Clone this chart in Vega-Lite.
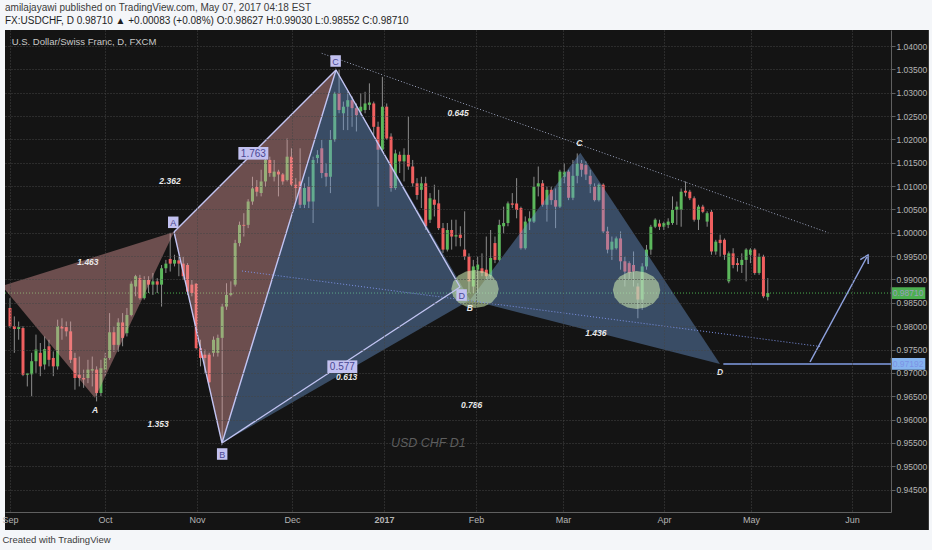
{
"$schema":"https://vega.github.io/schema/vega-lite/v6.json",
"width":886,"height":482,
"autosize":{"type":"none"},
"padding":{"left":5,"top":30,"right":41,"bottom":38},
"background":"#f4f6f9",
"config":{"font":"Liberation Sans","view":{"stroke":null},"axis":{"zindex":1}},
"title":{"text":"amilajayawi published on TradingView.com, May 07, 2017 04:18 EST","subtitle":"FX:USDCHF, D  0.98710 ▲ +0.00083 (+0.08%)  O:0.98627  H:0.99030  L:0.98552  C:0.98710","anchor":"start","frame":"group","offset":4,"fontSize":10,"fontWeight":"normal","color":"#3a3a3a","subtitleFontSize":10,"subtitleColor":"#1e1e1e","subtitlePadding":3},
"datasets":{
"candles":[
{"s":0,"o":0.9839,"h":0.9860,"l":0.9796,"c":0.9800},
{"s":1,"o":0.9800,"h":0.9821,"l":0.9743,"c":0.9794},
{"s":2,"o":0.9794,"h":0.9810,"l":0.9771,"c":0.9798},
{"s":3,"o":0.9796,"h":0.9800,"l":0.9693,"c":0.9696},
{"s":4,"o":0.9696,"h":0.9700,"l":0.9671,"c":0.9699},
{"s":5,"o":0.9697,"h":0.9743,"l":0.9650,"c":0.9725},
{"s":6,"o":0.9725,"h":0.9782,"l":0.9700,"c":0.9750},
{"s":7,"o":0.9743,"h":0.9764,"l":0.9693,"c":0.9714},
{"s":8,"o":0.9718,"h":0.9778,"l":0.9707,"c":0.9751},
{"s":9,"o":0.9757,"h":0.9771,"l":0.9714,"c":0.9728},
{"s":10,"o":0.9732,"h":0.9746,"l":0.9693,"c":0.9714},
{"s":11,"o":0.9714,"h":0.9814,"l":0.9707,"c":0.9800},
{"s":12,"o":0.9800,"h":0.9817,"l":0.9771,"c":0.9795},
{"s":13,"o":0.9798,"h":0.9810,"l":0.9778,"c":0.9789},
{"s":14,"o":0.9789,"h":0.9810,"l":0.9721,"c":0.9728},
{"s":15,"o":0.9732,"h":0.9743,"l":0.9664,"c":0.9689},
{"s":16,"o":0.9696,"h":0.9735,"l":0.9671,"c":0.9689},
{"s":17,"o":0.9689,"h":0.9707,"l":0.9668,"c":0.9686},
{"s":18,"o":0.9689,"h":0.9728,"l":0.9678,"c":0.9707},
{"s":19,"o":0.9705,"h":0.9735,"l":0.9671,"c":0.9708},
{"s":20,"o":0.9707,"h":0.9714,"l":0.9639,"c":0.9657},
{"s":21,"o":0.9657,"h":0.9728,"l":0.9650,"c":0.9710},
{"s":22,"o":0.9707,"h":0.9743,"l":0.9693,"c":0.9732},
{"s":23,"o":0.9732,"h":0.9828,"l":0.9728,"c":0.9787},
{"s":24,"o":0.9787,"h":0.9800,"l":0.9745,"c":0.9760},
{"s":25,"o":0.9760,"h":0.9817,"l":0.9745,"c":0.9808},
{"s":26,"o":0.9808,"h":0.9828,"l":0.9757,"c":0.9775},
{"s":27,"o":0.9785,"h":0.9839,"l":0.9778,"c":0.9824},
{"s":28,"o":0.9824,"h":0.9896,"l":0.9821,"c":0.9891},
{"s":29,"o":0.9885,"h":0.9910,"l":0.9864,"c":0.9907},
{"s":30,"o":0.9903,"h":0.9910,"l":0.9857,"c":0.9860},
{"s":31,"o":0.9860,"h":0.9907,"l":0.9857,"c":0.9899},
{"s":32,"o":0.9899,"h":0.9907,"l":0.9871,"c":0.9889},
{"s":33,"o":0.9889,"h":0.9914,"l":0.9867,"c":0.9896},
{"s":34,"o":0.9896,"h":0.9903,"l":0.9871,"c":0.9889},
{"s":35,"o":0.9889,"h":0.9931,"l":0.9842,"c":0.9924},
{"s":36,"o":0.9924,"h":0.9942,"l":0.9914,"c":0.9934},
{"s":37,"o":0.9944,"h":1.0000,"l":0.9917,"c":0.9934},
{"s":38,"o":0.9934,"h":0.9953,"l":0.9928,"c":0.9942},
{"s":39,"o":0.9941,"h":0.9949,"l":0.9907,"c":0.9934},
{"s":40,"o":0.9934,"h":0.9949,"l":0.9899,"c":0.9907},
{"s":41,"o":0.9931,"h":0.9935,"l":0.9867,"c":0.9874},
{"s":42,"o":0.9889,"h":0.9899,"l":0.9864,"c":0.9871},
{"s":43,"o":0.9891,"h":0.9892,"l":0.9750,"c":0.9753},
{"s":44,"o":0.9753,"h":0.9771,"l":0.9714,"c":0.9732},
{"s":45,"o":0.9739,"h":0.9750,"l":0.9700,"c":0.9732},
{"s":46,"o":0.9739,"h":0.9743,"l":0.9678,"c":0.9680},
{"s":47,"o":0.9743,"h":0.9778,"l":0.9735,"c":0.9771},
{"s":48,"o":0.9743,"h":0.9782,"l":0.9735,"c":0.9775},
{"s":49,"o":0.9775,"h":0.9849,"l":0.9550,"c":0.9842},
{"s":50,"o":0.9842,"h":0.9892,"l":0.9835,"c":0.9867},
{"s":51,"o":0.9867,"h":0.9896,"l":0.9864,"c":0.9871},
{"s":52,"o":0.9889,"h":0.9985,"l":0.9885,"c":0.9978},
{"s":53,"o":0.9978,"h":1.0024,"l":0.9971,"c":1.0017},
{"s":54,"o":1.0017,"h":1.0042,"l":0.9992,"c":1.0015},
{"s":55,"o":1.0017,"h":1.0072,"l":1.0010,"c":1.0067},
{"s":56,"o":1.0067,"h":1.0120,"l":1.0060,"c":1.0095},
{"s":57,"o":1.0099,"h":1.0113,"l":1.0078,"c":1.0088},
{"s":58,"o":1.0085,"h":1.0135,"l":1.0078,"c":1.0110},
{"s":59,"o":1.0110,"h":1.0167,"l":1.0099,"c":1.0156},
{"s":60,"o":1.0156,"h":1.0163,"l":1.0120,"c":1.0128},
{"s":61,"o":1.0120,"h":1.0156,"l":1.0110,"c":1.0131},
{"s":62,"o":1.0131,"h":1.0135,"l":1.0078,"c":1.0125},
{"s":63,"o":1.0125,"h":1.0128,"l":1.0103,"c":1.0110},
{"s":64,"o":1.0113,"h":1.0202,"l":1.0110,"c":1.0163},
{"s":65,"o":1.0163,"h":1.0181,"l":1.0099,"c":1.0103},
{"s":66,"o":1.0103,"h":1.0117,"l":1.0071,"c":1.0096},
{"s":67,"o":1.0110,"h":1.0181,"l":1.0053,"c":1.0060},
{"s":68,"o":1.0060,"h":1.0106,"l":1.0053,"c":1.0096},
{"s":69,"o":1.0099,"h":1.0120,"l":1.0053,"c":1.0067},
{"s":70,"o":1.0067,"h":1.0163,"l":1.0021,"c":1.0156},
{"s":71,"o":1.0160,"h":1.0177,"l":1.0149,"c":1.0167},
{"s":72,"o":1.0181,"h":1.0199,"l":1.0117,"c":1.0128},
{"s":73,"o":1.0128,"h":1.0149,"l":1.0099,"c":1.0120},
{"s":74,"o":1.0120,"h":1.0220,"l":1.0085,"c":1.0199},
{"s":75,"o":1.0199,"h":1.0302,"l":1.0195,"c":1.0299},
{"s":76,"o":1.0299,"h":1.0349,"l":1.0256,"c":1.0263},
{"s":77,"o":1.0256,"h":1.0281,"l":1.0220,"c":1.0270},
{"s":78,"o":1.0270,"h":1.0302,"l":1.0220,"c":1.0284},
{"s":79,"o":1.0284,"h":1.0292,"l":1.0227,"c":1.0267},
{"s":80,"o":1.0267,"h":1.0277,"l":1.0217,"c":1.0252},
{"s":81,"o":1.0260,"h":1.0299,"l":1.0252,"c":1.0270},
{"s":82,"o":1.0263,"h":1.0302,"l":1.0256,"c":1.0277},
{"s":83,"o":1.0274,"h":1.0320,"l":1.0263,"c":1.0279},
{"s":84,"o":1.0277,"h":1.0281,"l":1.0210,"c":1.0227},
{"s":85,"o":1.0227,"h":1.0238,"l":1.0056,"c":1.0178},
{"s":86,"o":1.0178,"h":1.0334,"l":1.0174,"c":1.0270},
{"s":87,"o":1.0270,"h":1.0277,"l":1.0199,"c":1.0202},
{"s":88,"o":1.0206,"h":1.0213,"l":1.0088,"c":1.0096},
{"s":89,"o":1.0096,"h":1.0178,"l":1.0092,"c":1.0170},
{"s":90,"o":1.0167,"h":1.0174,"l":1.0128,"c":1.0153},
{"s":91,"o":1.0153,"h":1.0181,"l":1.0110,"c":1.0167},
{"s":92,"o":1.0167,"h":1.0249,"l":1.0135,"c":1.0142},
{"s":93,"o":1.0142,"h":1.0156,"l":1.0099,"c":1.0106},
{"s":94,"o":1.0106,"h":1.0117,"l":1.0071,"c":1.0081},
{"s":95,"o":1.0092,"h":1.0120,"l":1.0053,"c":1.0106},
{"s":96,"o":1.0106,"h":1.0120,"l":1.0006,"c":1.0014},
{"s":97,"o":1.0028,"h":1.0085,"l":1.0021,"c":1.0074},
{"s":98,"o":1.0071,"h":1.0103,"l":1.0035,"c":1.0060},
{"s":99,"o":1.0063,"h":1.0092,"l":1.0006,"c":1.0010},
{"s":100,"o":1.0010,"h":1.0021,"l":0.9957,"c":0.9964},
{"s":101,"o":0.9964,"h":1.0021,"l":0.9960,"c":1.0006},
{"s":102,"o":1.0006,"h":1.0028,"l":0.9964,"c":0.9992},
{"s":103,"o":0.9992,"h":1.0028,"l":0.9971,"c":0.9995},
{"s":104,"o":0.9996,"h":1.0014,"l":0.9971,"c":0.9989},
{"s":105,"o":0.9964,"h":1.0046,"l":0.9942,"c":0.9949},
{"s":106,"o":0.9949,"h":0.9956,"l":0.9871,"c":0.9896},
{"s":107,"o":0.9885,"h":0.9942,"l":0.9871,"c":0.9928},
{"s":108,"o":0.9921,"h":0.9949,"l":0.9871,"c":0.9932},
{"s":109,"o":0.9924,"h":0.9956,"l":0.9907,"c":0.9914},
{"s":110,"o":0.9921,"h":0.9992,"l":0.9899,"c":0.9907},
{"s":111,"o":0.9907,"h":1.0006,"l":0.9903,"c":0.9946},
{"s":112,"o":0.9978,"h":0.9992,"l":0.9935,"c":0.9942},
{"s":113,"o":0.9942,"h":1.0028,"l":0.9939,"c":1.0017},
{"s":114,"o":1.0014,"h":1.0056,"l":0.9999,"c":1.0021},
{"s":115,"o":1.0021,"h":1.0067,"l":1.0014,"c":1.0063},
{"s":116,"o":1.0063,"h":1.0085,"l":1.0053,"c":1.0060},
{"s":117,"o":1.0063,"h":1.0117,"l":1.0031,"c":1.0049},
{"s":118,"o":1.0053,"h":1.0056,"l":0.9964,"c":0.9967},
{"s":119,"o":0.9967,"h":1.0035,"l":0.9964,"c":1.0024},
{"s":120,"o":1.0024,"h":1.0046,"l":1.0006,"c":1.0031},
{"s":121,"o":1.0024,"h":1.0120,"l":1.0021,"c":1.0099},
{"s":122,"o":1.0099,"h":1.0142,"l":1.0078,"c":1.0106},
{"s":123,"o":1.0106,"h":1.0113,"l":1.0056,"c":1.0060},
{"s":124,"o":1.0060,"h":1.0099,"l":1.0024,"c":1.0092},
{"s":125,"o":1.0092,"h":1.0099,"l":1.0060,"c":1.0070},
{"s":126,"o":1.0070,"h":1.0095,"l":1.0010,"c":1.0056},
{"s":127,"o":1.0056,"h":1.0135,"l":1.0053,"c":1.0131},
{"s":128,"o":1.0120,"h":1.0149,"l":1.0106,"c":1.0131},
{"s":129,"o":1.0131,"h":1.0135,"l":1.0070,"c":1.0075},
{"s":130,"o":1.0075,"h":1.0156,"l":1.0070,"c":1.0122},
{"s":131,"o":1.0122,"h":1.0170,"l":1.0106,"c":1.0149},
{"s":132,"o":1.0149,"h":1.0156,"l":1.0120,"c":1.0135},
{"s":133,"o":1.0145,"h":1.0153,"l":1.0113,"c":1.0125},
{"s":134,"o":1.0122,"h":1.0135,"l":1.0085,"c":1.0104},
{"s":135,"o":1.0099,"h":1.0106,"l":1.0067,"c":1.0070},
{"s":136,"o":1.0070,"h":1.0106,"l":1.0067,"c":1.0103},
{"s":137,"o":1.0103,"h":1.0106,"l":0.9999,"c":1.0003},
{"s":138,"o":1.0003,"h":1.0013,"l":0.9956,"c":0.9964},
{"s":139,"o":0.9964,"h":0.9992,"l":0.9942,"c":0.9981},
{"s":140,"o":0.9967,"h":0.9992,"l":0.9964,"c":0.9988},
{"s":141,"o":0.9988,"h":1.0003,"l":0.9921,"c":0.9939},
{"s":142,"o":0.9939,"h":0.9949,"l":0.9885,"c":0.9917},
{"s":143,"o":0.9935,"h":0.9939,"l":0.9899,"c":0.9914},
{"s":144,"o":0.9931,"h":0.9960,"l":0.9885,"c":0.9917},
{"s":145,"o":0.9885,"h":0.9892,"l":0.9817,"c":0.9857},
{"s":146,"o":0.9857,"h":0.9935,"l":0.9835,"c":0.9928},
{"s":147,"o":0.9928,"h":0.9974,"l":0.9921,"c":0.9964},
{"s":148,"o":0.9964,"h":1.0017,"l":0.9953,"c":1.0013},
{"s":149,"o":1.0013,"h":1.0031,"l":1.0010,"c":1.0028},
{"s":150,"o":1.0020,"h":1.0028,"l":1.0006,"c":1.0013},
{"s":151,"o":1.0013,"h":1.0024,"l":1.0006,"c":1.0021},
{"s":152,"o":1.0017,"h":1.0031,"l":1.0010,"c":1.0024},
{"s":153,"o":1.0021,"h":1.0078,"l":1.0017,"c":1.0049},
{"s":154,"o":1.0049,"h":1.0067,"l":1.0017,"c":1.0056},
{"s":155,"o":1.0049,"h":1.0095,"l":1.0013,"c":1.0088},
{"s":156,"o":1.0090,"h":1.0110,"l":1.0078,"c":1.0086},
{"s":157,"o":1.0088,"h":1.0092,"l":1.0070,"c":1.0074},
{"s":158,"o":1.0074,"h":1.0078,"l":1.0024,"c":1.0028},
{"s":159,"o":1.0028,"h":1.0060,"l":1.0006,"c":1.0056},
{"s":160,"o":1.0056,"h":1.0060,"l":1.0042,"c":1.0045},
{"s":161,"o":1.0024,"h":1.0046,"l":1.0013,"c":1.0042},
{"s":162,"o":1.0045,"h":1.0049,"l":0.9953,"c":0.9960},
{"s":163,"o":0.9960,"h":0.9985,"l":0.9953,"c":0.9981},
{"s":164,"o":0.9985,"h":0.9996,"l":0.9949,"c":0.9978},
{"s":165,"o":0.9985,"h":0.9988,"l":0.9942,"c":0.9953},
{"s":166,"o":0.9896,"h":0.9960,"l":0.9892,"c":0.9956},
{"s":167,"o":0.9956,"h":0.9967,"l":0.9924,"c":0.9931},
{"s":168,"o":0.9935,"h":0.9946,"l":0.9917,"c":0.9931},
{"s":169,"o":0.9931,"h":0.9956,"l":0.9914,"c":0.9942},
{"s":170,"o":0.9942,"h":0.9967,"l":0.9896,"c":0.9964},
{"s":171,"o":0.9953,"h":0.9967,"l":0.9935,"c":0.9964},
{"s":172,"o":0.9964,"h":0.9967,"l":0.9910,"c":0.9914},
{"s":173,"o":0.9914,"h":0.9956,"l":0.9910,"c":0.9949},
{"s":174,"o":0.9949,"h":0.9953,"l":0.9860,"c":0.9864},
{"s":175,"o":0.98627,"h":0.99030,"l":0.98552,"c":0.98710}
],
"pink":[
{"poly":"xab","k":0,"s":-1.85,"p":0.98861},{"poly":"xab","k":1,"s":19.63,"p":0.96463},{"poly":"xab","k":2,"s":37.88,"p":1.00017},
{"poly":"bcd","k":0,"s":37.88,"p":1.00017},{"poly":"bcd","k":1,"s":48.96,"p":0.95499},{"poly":"bcd","k":2,"s":75.29,"p":1.03486}
],
"blue":[
{"poly":"xab","k":0,"s":48.96,"p":0.95499},{"poly":"xab","k":1,"s":75.29,"p":1.03486},{"poly":"xab","k":2,"s":106.24,"p":0.98561},
{"poly":"bcd","k":0,"s":106.24,"p":0.98561},{"poly":"bcd","k":1,"s":131.71,"p":1.01715},{"poly":"bcd","k":2,"s":163.97,"p":0.97192}
],
"lines":[
{"id":"abcd","k":0,"s":37.88,"p":1.00017},{"id":"abcd","k":1,"s":48.96,"p":0.95499},{"id":"abcd","k":2,"s":75.29,"p":1.03486},{"id":"abcd","k":3,"s":103.93,"p":0.98839},
{"id":"ac","k":0,"s":37.88,"p":1.00017},{"id":"ac","k":1,"s":75.29,"p":1.03486},
{"id":"bd","k":0,"s":48.96,"p":0.95499},{"id":"bd","k":1,"s":103.93,"p":0.98839},
{"id":"arrow","k":0,"s":184.76,"p":0.97233},{"id":"arrow","k":1,"s":198.15,"p":0.99525},
{"id":"head","k":0,"s":196.37,"p":0.99424},{"id":"head","k":1,"s":198.15,"p":0.99525},{"id":"head","k":2,"s":198.2,"p":0.99332}
],
"trends":[
{"id":"upper","k":0,"s":71.99,"p":1.03844},{"id":"upper","k":1,"s":188.98,"p":1.00002},
{"id":"lower","k":0,"s":53.58,"p":0.99182},{"id":"lower","k":1,"s":187.46,"p":0.97561}
],
"ellipses":[{"s":107.4,"p":0.98797},{"s":144.7,"p":0.98775}],
"italic":[
{"t":"A","s":19.63,"p":0.96206},{"t":"1.463","s":18.0,"p":0.99375},{"t":"1.353","s":34.2,"p":0.95906},{"t":"2.362","s":36.95,"p":1.01109},
{"t":"0.613","s":77.76,"p":0.96905},{"t":"0.645","s":103.5,"p":1.02559},{"t":"0.786","s":106.6,"p":0.96313},{"t":"1.436","s":135.3,"p":0.97854},
{"t":"B","s":106.2,"p":0.98390},{"t":"C","s":131.5,"p":1.01929},{"t":"D","s":163.97,"p":0.97026}
],
"letterbox":[{"t":"A","s":37.7,"p":1.00225},{"t":"B","s":49.0,"p":0.95263},{"t":"C","s":75.2,"p":1.03679},{"t":"D","s":104.3,"p":0.98668}],
"numbox":[{"t":"1.763","s":56.2,"p":1.01702},{"t":"0.577","s":76.75,"p":0.97133}],
"pricebox":[{"t":"0.98710","kind":"last","s":207.4,"p":0.9871},{"t":"0.97192","kind":"level","s":207.4,"p":0.97192}]
},
"layer":[
{"data":{"values":[{}]},"mark":{"type":"rect","color":"#141414"},
 "encoding":{"x":{"datum":-1.155,"type":"quantitative","scale":{"domain":[-1.155,203.46],"nice":false,"zero":false,"padding":0}},"x2":{"datum":212.2},
 "y":{"datum":1.04343,"type":"quantitative","scale":{"domain":[0.94021,1.04343],"nice":false,"zero":false}},"y2":{"datum":0.93636}}},
{"data":{"values":[{}]},"mark":{"type":"rule","color":"#4caf50","strokeDash":[1,2],"strokeWidth":1},
 "encoding":{"x":{"datum":-1.155,"type":"quantitative","scale":{"domain":[-1.155,203.46],"nice":false,"zero":false,"padding":0}},"x2":{"datum":203.46},
 "y":{"datum":0.9871,"type":"quantitative","scale":{"domain":[0.94021,1.04343],"nice":false,"zero":false}}}},
{"data":{"name":"candles"},"mark":{"type":"rule","color":"#8c8c8c","strokeWidth":1},
 "encoding":{
  "x":{"field":"s","type":"quantitative","scale":{"domain":[-1.155,203.46],"nice":false,"zero":false,"padding":0},
   "axis":{"values":[0,21.94,43.19,65.13,86.37,107.62,127.71,151.04,171.13,194.46],"tickCount":30,
    "labelExpr":"datum.value < 10 ? 'Sep' : datum.value < 30 ? 'Oct' : datum.value < 50 ? 'Nov' : datum.value < 75 ? 'Dec' : datum.value < 95 ? '2017' : datum.value < 115 ? 'Feb' : datum.value < 140 ? 'Mar' : datum.value < 160 ? 'Apr' : datum.value < 180 ? 'May' : 'Jun'",
    "labelFontWeight":{"expr":"datum.value > 80 && datum.value < 95 ? 'bold' : 'normal'"},
    "grid":true,"gridColor":"#444444","gridDash":[1,2],"domain":true,"domainColor":"#606060","ticks":false,
    "labelColor":"#b4b4b4","labelFontSize":9,"labelPadding":3,"labelFlush":false,"labelOverlap":false,"labelBound":false,
    "title":"Created with  TradingView","titleAnchor":"start","titleAlign":"left","titleX":-3,"titleY":30,"titleBaseline":"alphabetic",
    "titleColor":"#3c3c3c","titleFontSize":9.5,"titleFontWeight":"normal","zindex":1}},
  "y":{"field":"l","type":"quantitative","scale":{"domain":[0.94021,1.04343],"nice":false,"zero":false},
   "axis":{"orient":"right","values":[0.945,0.95,0.955,0.96,0.965,0.97,0.975,0.98,0.985,0.99,0.995,1.0,1.005,1.01,1.015,1.02,1.025,1.03,1.035,1.04],"tickCount":30,
    "format":".5f","grid":true,"gridColor":"#444444","gridDash":[1,2],"domain":true,"domainColor":"#606060","ticks":true,"tickSize":4,"tickColor":"#606060",
    "labelColor":"#b4b4b4","labelFontSize":8.5,"labelPadding":1,"labelBaseline":"middle","labelOverlap":false,"labelBound":false,"labelFlush":false,"title":null,"zindex":1}},
  "y2":{"field":"h"}}},
{"data":{"name":"candles"},"mark":{"type":"bar","size":3},
 "encoding":{
  "x":{"field":"s","type":"quantitative","scale":{"domain":[-1.155,203.46],"nice":false,"zero":false,"padding":0}},
  "y":{"field":"o","type":"quantitative","scale":{"domain":[0.94021,1.04343],"nice":false,"zero":false}},
  "y2":{"field":"c"},
  "color":{"condition":{"test":"datum.c >= datum.o","value":"#5cb85c"},"value":"#ef5f5f"}}},
{"data":{"name":"pink"},"mark":{"type":"line","fill":"#e8a0a0","fillOpacity":0.42,"strokeWidth":0,"clip":true},
 "encoding":{
  "x":{"field":"s","type":"quantitative","scale":{"domain":[-1.155,203.46],"nice":false,"zero":false,"padding":0}},
  "y":{"field":"p","type":"quantitative","scale":{"domain":[0.94021,1.04343],"nice":false,"zero":false}},
  "detail":{"field":"poly"},"order":{"field":"k"}}},
{"data":{"name":"blue"},"mark":{"type":"line","fill":"#6d9ad6","fillOpacity":0.42,"strokeWidth":0},
 "encoding":{
  "x":{"field":"s","type":"quantitative","scale":{"domain":[-1.155,203.46],"nice":false,"zero":false,"padding":0}},
  "y":{"field":"p","type":"quantitative","scale":{"domain":[0.94021,1.04343],"nice":false,"zero":false}},
  "detail":{"field":"poly"},"order":{"field":"k"}}},
{"data":{"name":"ellipses"},"mark":{"type":"point","shape":"M1,0L0.924,0.306L0.707,0.566L0.383,0.739L0,0.8L-0.383,0.739L-0.707,0.566L-0.924,0.306L-1,0L-0.924,-0.306L-0.707,-0.566L-0.383,-0.739L0,-0.8L0.383,-0.739L0.707,-0.566L0.924,-0.306Z","size":2250,"filled":true,"fill":"#cde8b0","fillOpacity":0.58,"strokeWidth":0},
 "encoding":{
  "x":{"field":"s","type":"quantitative","scale":{"domain":[-1.155,203.46],"nice":false,"zero":false,"padding":0}},
  "y":{"field":"p","type":"quantitative","scale":{"domain":[0.94021,1.04343],"nice":false,"zero":false}}}},
{"data":{"name":"trends"},"mark":{"type":"line","strokeWidth":1,"strokeDash":[1,2]},
 "encoding":{
  "x":{"field":"s","type":"quantitative","scale":{"domain":[-1.155,203.46],"nice":false,"zero":false,"padding":0}},
  "y":{"field":"p","type":"quantitative","scale":{"domain":[0.94021,1.04343],"nice":false,"zero":false}},
  "detail":{"field":"id"},"order":{"field":"k"},
  "color":{"field":"id","type":"nominal","scale":{"domain":["upper","lower"],"range":["#9aa2bd","#7d92e6"]},"legend":null}}},
{"data":{"name":"lines"},"transform":[{"filter":"datum.id == 'abcd' || datum.id == 'ac' || datum.id == 'bd'"}],
 "mark":{"type":"line","strokeWidth":1.4,"color":"#c2c4f2"},
 "encoding":{
  "x":{"field":"s","type":"quantitative","scale":{"domain":[-1.155,203.46],"nice":false,"zero":false,"padding":0}},
  "y":{"field":"p","type":"quantitative","scale":{"domain":[0.94021,1.04343],"nice":false,"zero":false}},
  "detail":{"field":"id"},"order":{"field":"k"}}},
{"data":{"name":"lines"},"transform":[{"filter":"datum.id == 'arrow' || datum.id == 'head'"}],
 "mark":{"type":"line","strokeWidth":1.5,"color":"#8fa2df"},
 "encoding":{
  "x":{"field":"s","type":"quantitative","scale":{"domain":[-1.155,203.46],"nice":false,"zero":false,"padding":0}},
  "y":{"field":"p","type":"quantitative","scale":{"domain":[0.94021,1.04343],"nice":false,"zero":false}},
  "detail":{"field":"id"},"order":{"field":"k"}}},
{"data":{"values":[{}]},"mark":{"type":"rule","color":"#809de3","strokeWidth":1.5},
 "encoding":{"x":{"datum":164.74,"type":"quantitative","scale":{"domain":[-1.155,203.46],"nice":false,"zero":false,"padding":0}},"x2":{"datum":203.46},
 "y":{"datum":0.97192,"type":"quantitative","scale":{"domain":[0.94021,1.04343],"nice":false,"zero":false}}}},
{"data":{"name":"italic"},"mark":{"type":"text","fontStyle":"italic","fontWeight":"bold","fontSize":8.5,"color":"#e8e8e8","align":"center","baseline":"middle"},
 "encoding":{
  "x":{"field":"s","type":"quantitative","scale":{"domain":[-1.155,203.46],"nice":false,"zero":false,"padding":0}},
  "y":{"field":"p","type":"quantitative","scale":{"domain":[0.94021,1.04343],"nice":false,"zero":false}},
  "text":{"field":"t"}}},
{"data":{"name":"letterbox"},"mark":{"type":"point","shape":"M-1,-1.1L1,-1.1L1,1.1L-1,1.1Z","size":110,"filled":true,"fill":"#c2c1f0","opacity":1,"strokeWidth":0},
 "encoding":{
  "x":{"field":"s","type":"quantitative","scale":{"domain":[-1.155,203.46],"nice":false,"zero":false,"padding":0}},
  "y":{"field":"p","type":"quantitative","scale":{"domain":[0.94021,1.04343],"nice":false,"zero":false}}}},
{"data":{"name":"numbox"},"mark":{"type":"point","shape":"M-1,-0.42L1,-0.42L1,0.42L-1,0.42Z","size":900,"filled":true,"fill":"#c2c1f0","opacity":1,"strokeWidth":0},
 "encoding":{
  "x":{"field":"s","type":"quantitative","scale":{"domain":[-1.155,203.46],"nice":false,"zero":false,"padding":0}},
  "y":{"field":"p","type":"quantitative","scale":{"domain":[0.94021,1.04343],"nice":false,"zero":false}}}},
{"data":{"name":"letterbox"},"mark":{"type":"text","fontSize":9,"color":"#4a4893","align":"center","baseline":"middle","dy":0.5},
 "encoding":{
  "x":{"field":"s","type":"quantitative","scale":{"domain":[-1.155,203.46],"nice":false,"zero":false,"padding":0}},
  "y":{"field":"p","type":"quantitative","scale":{"domain":[0.94021,1.04343],"nice":false,"zero":false}},
  "text":{"field":"t"}}},
{"data":{"name":"numbox"},"mark":{"type":"text","fontSize":10,"color":"#4a4893","align":"center","baseline":"middle","dy":0.5},
 "encoding":{
  "x":{"field":"s","type":"quantitative","scale":{"domain":[-1.155,203.46],"nice":false,"zero":false,"padding":0}},
  "y":{"field":"p","type":"quantitative","scale":{"domain":[0.94021,1.04343],"nice":false,"zero":false}},
  "text":{"field":"t"}}},
{"data":{"values":[{"t":"U.S. Dollar/Swiss Franc, D, FXCM","s":0.39,"p":1.04092}]},"mark":{"type":"text","fontSize":9.5,"color":"#c8c8c8","align":"left","baseline":"middle"},
 "encoding":{
  "x":{"field":"s","type":"quantitative","scale":{"domain":[-1.155,203.46],"nice":false,"zero":false,"padding":0}},
  "y":{"field":"p","type":"quantitative","scale":{"domain":[0.94021,1.04343],"nice":false,"zero":false}},
  "text":{"field":"t"}}},
{"data":{"values":[{"t":"USD CHF D1","s":96.6,"p":0.95493}]},"mark":{"type":"text","fontSize":12.5,"fontStyle":"italic","color":"#5e5e5e","align":"center","baseline":"middle"},
 "encoding":{
  "x":{"field":"s","type":"quantitative","scale":{"domain":[-1.155,203.46],"nice":false,"zero":false,"padding":0}},
  "y":{"field":"p","type":"quantitative","scale":{"domain":[0.94021,1.04343],"nice":false,"zero":false}},
  "text":{"field":"t"}}},
{"data":{"name":"pricebox"},"mark":{"type":"point","shape":"M-1,-0.34L1,-0.34L1,0.34L-1,0.34Z","size":1190,"filled":true,"opacity":1,"strokeWidth":0},
 "encoding":{
  "x":{"field":"s","type":"quantitative","scale":{"domain":[-1.155,203.46],"nice":false,"zero":false,"padding":0}},
  "y":{"field":"p","type":"quantitative","scale":{"domain":[0.94021,1.04343],"nice":false,"zero":false}},
  "fill":{"field":"kind","type":"nominal","scale":{"domain":["last","level"],"range":["#4caf50","#86b4ef"]},"legend":null}}},
{"data":{"name":"pricebox"},"mark":{"type":"text","fontSize":8.5,"align":"center","baseline":"middle"},
 "encoding":{
  "x":{"field":"s","type":"quantitative","scale":{"domain":[-1.155,203.46],"nice":false,"zero":false,"padding":0}},
  "y":{"field":"p","type":"quantitative","scale":{"domain":[0.94021,1.04343],"nice":false,"zero":false}},
  "text":{"field":"t"},
  "color":{"field":"kind","type":"nominal","scale":{"domain":["last","level"],"range":["#eaffea","#1d3b7a"]},"legend":null}}}
]
}
